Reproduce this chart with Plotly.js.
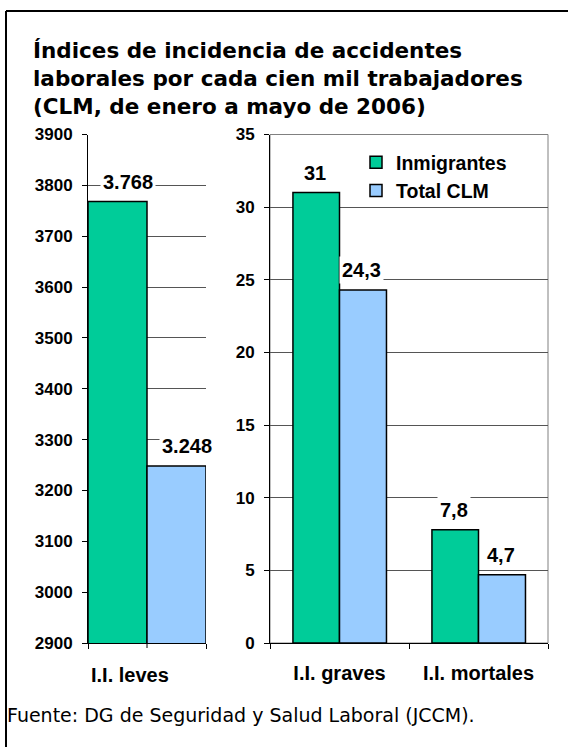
<!DOCTYPE html>
<html>
<head>
<meta charset="utf-8">
<script src="https://cdn.plot.ly/plotly-3.0.1.min.js"></script>
<style>
html,body{margin:0;padding:0;background:#fff;}
#chart{width:568px;height:747px;}
</style>
</head>
<body>
<div id="chart"></div>
<script>
// ---- data ----
const seriesNames = ['Inmigrantes', 'Total CLM'];
const categoriesLeft = ['I.I. leves'];
const categoriesRight = ['I.I. graves', 'I.I. mortales'];
const inmigrantesLeft = [3768];
const totalLeft = [3248];
const inmigrantesRight = [31, 7.8];
const totalRight = [24.3, 4.7];
const titleText = 'Índices de incidencia de accidentes<br>laborales por cada cien mil trabajadores<br>(CLM, de enero a mayo de 2006)';
const sourceText = 'Fuente: DG de Seguridad y Salud Laboral (JCCM).';

// ---- style ----
const W = 568, H = 747;
const GREEN = '#00CC99', BLUE = '#99CCFF';
const ARIAL = 'Liberation Sans, Arial, sans-serif';
const VERD = 'DejaVu Sans, Verdana, sans-serif';
const px = v => v / W;
const py = v => 1 - v / H;
const yDom = [py(643), py(134.5)];

function fmt(v) {
  if (Number.isInteger(v)) return String(v).replace(/\B(?=(\d{3})+(?!\d))/g, '.');
  return String(v).replace('.', ',');
}

const barLine = {color: '#000', width: 1.5};
const traces = [
  {type: 'bar', name: seriesNames[0], x: categoriesLeft, y: inmigrantesLeft, xaxis: 'x', yaxis: 'y',
   width: 0.5, offset: -0.5, marker: {color: GREEN, line: barLine}, showlegend: false, hoverinfo: 'skip'},
  {type: 'bar', name: seriesNames[1], x: categoriesLeft, y: totalLeft, xaxis: 'x', yaxis: 'y',
   width: 0.5, offset: 0, marker: {color: BLUE, line: barLine}, showlegend: false, hoverinfo: 'skip'},
  {type: 'bar', name: seriesNames[0], x: categoriesRight, y: inmigrantesRight, xaxis: 'x2', yaxis: 'y2',
   width: 0.335, offset: -0.335, marker: {color: GREEN, line: barLine}, hoverinfo: 'skip'},
  {type: 'bar', name: seriesNames[1], x: categoriesRight, y: totalRight, xaxis: 'x2', yaxis: 'y2',
   width: 0.338, offset: 0, marker: {color: BLUE, line: barLine}, hoverinfo: 'skip'}
];

const labelFont = {family: ARIAL, size: 20, color: '#000', weight: 'bold'};
const annotations = [];
function addLabels(cats, vals, xref, yref, dx, xshift) {
  cats.forEach((c, i) => {
    annotations.push({x: i + dx, y: vals[i], xref: xref, yref: yref, text: fmt(vals[i]),
      showarrow: false, yanchor: 'middle', yshift: 20, xshift: xshift, font: labelFont,
      bgcolor: '#fff', borderpad: 2});
  });
}
addLabels(categoriesLeft, inmigrantesLeft, 'x', 'y', -0.25, 10);
addLabels(categoriesLeft, totalLeft, 'x', 'y', 0.25, 10);
addLabels(categoriesRight, inmigrantesRight, 'x2', 'y2', -0.1675, -1);
addLabels(categoriesRight, totalRight, 'x2', 'y2', 0.169, -1);

// left category label (shifted like the original)
annotations.push({x: 0, xref: 'x', xshift: -17, y: py(675), yref: 'paper', yanchor: 'middle',
  text: categoriesLeft[0], showarrow: false, font: {family: ARIAL, size: 20, color: '#000', weight: 'bold'}});
// source
annotations.push({x: px(5), xref: 'paper', xanchor: 'left', y: py(715), yref: 'paper', yanchor: 'middle',
  text: sourceText, showarrow: false, font: {family: VERD, size: 19, color: '#000'}});

const tickFont = {family: ARIAL, size: 17, color: '#000', weight: 'bold'};

const layout = {
  width: W, height: H,
  margin: {l: 0, r: 0, t: 0, b: 0},
  paper_bgcolor: '#fff', plot_bgcolor: 'rgba(0,0,0,0)',
  barmode: 'overlay',
  title: {text: titleText, x: px(33), xref: 'paper', xanchor: 'left', y: py(58), yref: 'paper', yanchor: 'top',
    font: {family: VERD, size: 21.5, color: '#000', weight: 'bold'}},
  xaxis: {domain: [px(88), px(206)], anchor: 'y', type: 'category', range: [-0.5, 0.5],
    showline: true, linecolor: '#000', linewidth: 1, ticks: 'outside', tickson: 'boundaries',
    ticklen: 5, tickcolor: '#000', showticklabels: false, showgrid: false, fixedrange: true},
  yaxis: {domain: yDom, anchor: 'x', range: [2900, 3900], tick0: 2900, dtick: 100,
    showline: true, linecolor: '#000', linewidth: 1, ticks: 'outside', ticklen: 5, tickcolor: '#000',
    gridcolor: '#555', gridwidth: 1, zeroline: false, tickfont: tickFont, ticklabelstandoff: 6, fixedrange: true},
  xaxis2: {domain: [px(270), px(548)], anchor: 'y2', type: 'category', range: [-0.5, 1.5],
    showline: true, linecolor: '#000', linewidth: 1, ticks: 'outside', tickson: 'boundaries',
    ticklen: 5, tickcolor: '#000', showgrid: false, tickfont: {family: ARIAL, size: 20, color: '#000', weight: 'bold'},
    ticklabelstandoff: 12, fixedrange: true},
  yaxis2: {domain: yDom, anchor: 'x2', range: [0, 35], tick0: 0, dtick: 5,
    showline: true, linecolor: '#000', linewidth: 1, ticks: 'outside', ticklen: 5, tickcolor: '#000',
    gridcolor: '#555', gridwidth: 1, zeroline: false, tickfont: tickFont, ticklabelstandoff: 6, fixedrange: true},
  legend: {x: px(356), xanchor: 'left', y: py(143), yanchor: 'top', bgcolor: 'rgba(0,0,0,0)',
    font: {family: ARIAL, size: 19.5, color: '#000', weight: 'bold'}, tracegroupgap: 0},
  annotations: annotations,
  shapes: [
    // right panel frame
    {type: 'rect', xref: 'x2 domain', yref: 'y2 domain', x0: 0, x1: 1, y0: 0, y1: 1,
     line: {color: '#808080', width: 1}, layer: 'below'},
    // middle tick of left panel
    {type: 'line', xref: 'x', x0: 0, x1: 0, yref: 'paper', ysizemode: 'pixel', yanchor: yDom[0],
     y0: 0, y1: -5, line: {color: '#000', width: 1}},
    // outer frame (top + left edges)
    {type: 'line', xref: 'paper', yref: 'paper', x0: px(6), x1: 1.01, y0: py(11), y1: py(11), line: {color: '#000', width: 2}},
    {type: 'line', xref: 'paper', yref: 'paper', x0: px(6), x1: px(6), y0: py(11), y1: -0.01, line: {color: '#000', width: 2}}
  ]
};

Plotly.newPlot('chart', traces, layout, {displayModeBar: false, staticPlot: true});
</script>
</body>
</html>
